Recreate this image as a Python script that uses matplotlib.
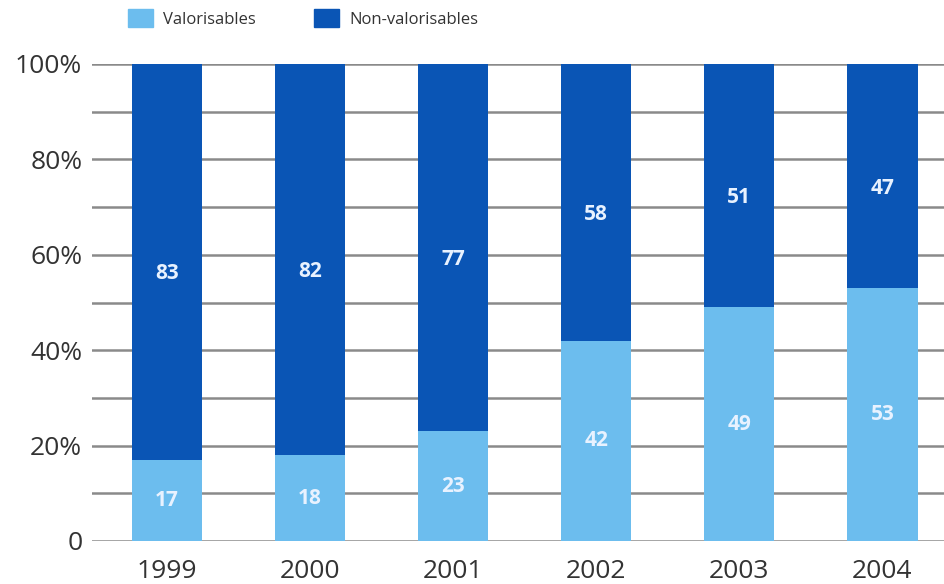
import numpy as np
import matplotlib
matplotlib.use("Agg")
from matplotlib import pyplot as plt
from matplotlib.patches import Patch

years = ['1999', '2000', '2001', '2002', '2003', '2004']
valorisables = [17, 18, 23, 42, 49, 53]
non_valorisables = [83, 82, 77, 58, 51, 47]
y_ticks = [0, 20, 40, 60, 80, 100]
y_tick_labels = ['0', '20%', '40%', '60%', '80%', '100%']

light = '#6cbdee'
dark = '#0a55b5'
txt = '#333333'

plt.rcParams['font.family'] = ['Open Sans', 'DejaVu Sans']

fig = plt.figure(figsize=(9.44, 5.84), dpi=100)
ax = fig.add_axes([92 / 944, 1 - 541 / 584, 852 / 944, 477 / 584])

x = np.arange(len(years))
w = 0.49
ax.bar(x, valorisables, w, color=light, zorder=3)
ax.bar(x, non_valorisables, w, bottom=valorisables, color=dark, zorder=3)

for i in range(len(years)):
    v, n = valorisables[i], non_valorisables[i]
    ax.text(x[i], v / 2, str(v), ha='center', va='center', color='#e8f2ff',
            fontsize=15, fontweight='bold', zorder=4)
    ax.text(x[i], v + n / 2 - 2.5, str(n), ha='center', va='center', color='#e8f2ff',
            fontsize=15, fontweight='bold', zorder=4)

# grid every 10 %
for g in range(0, 101, 10):
    ax.axhline(g, color='#8a8a8a', lw=1.8, zorder=1)

ax.set_xlim(-0.524, 5.43)
ax.set_ylim(0, 100)
ax.set_yticks(y_ticks)
ax.set_yticklabels(y_tick_labels, fontsize=19, color=txt)
ax.set_xticks(x)
ax.set_xticklabels(years, fontsize=19, color=txt)
ax.tick_params(axis='both', length=0)
ax.tick_params(axis='y', pad=7)
ax.tick_params(axis='x', pad=13)
for s in ax.spines.values():
    s.set_visible(False)

handles = [Patch(color=light), Patch(color=dark)]
fig.legend(handles, ['Valorisables', 'Non-valorisables'], loc='upper left',
           bbox_to_anchor=(113 / 944, 1.01), ncol=2, frameon=False, fontsize=12,
           handlelength=1.5, handleheight=1.3, columnspacing=3.5, handletextpad=0.6,
           labelcolor=txt)

fig.savefig('out.png', dpi=100)
